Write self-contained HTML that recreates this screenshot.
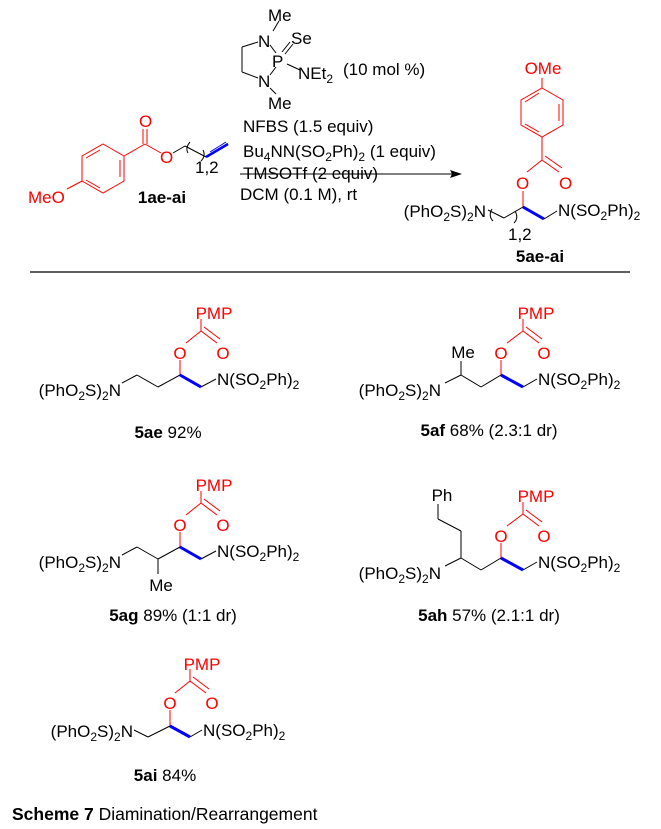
<!DOCTYPE html>
<html><head><meta charset="utf-8"><style>
body{margin:0;background:#fff}
svg{display:block}
text{font-family:"Liberation Sans",Arial,sans-serif;font-size:17px}
.r{fill:#f00}
.b{font-weight:bold}
.m{text-anchor:middle}
.e{text-anchor:end}
</style></head><body>
<svg width="661" height="829" viewBox="0 0 661 829" xmlns="http://www.w3.org/2000/svg">
<g stroke="#000" stroke-width="1" fill="none">
<line x1="279" y1="21" x2="273" y2="31"/>
<line x1="258" y1="42" x2="242" y2="47"/>
<line x1="242" y1="47" x2="242" y2="72"/>
<line x1="242" y1="72" x2="258" y2="78"/>
<line x1="270" y1="45" x2="276" y2="53"/>
<line x1="276" y1="67" x2="270" y2="75"/>
<line x1="282" y1="52" x2="290" y2="42"/><line x1="285" y1="54" x2="293" y2="44"/>
<line x1="287" y1="64" x2="300" y2="70"/>
<line x1="270" y1="88" x2="276" y2="94"/>
<line x1="240" y1="174" x2="452" y2="174"/>
</g>
<polygon points="462,174 450,170 452,174 450,178" fill="#000"/>
<text x="268" y="21">Me</text>
<text x="258" y="47">N</text>
<text x="291" y="44">Se</text>
<text x="272" y="67">P</text>
<text x="298" y="79">NEt<tspan font-size="12" dy="4">2</tspan></text>
<text x="343" y="75">(10 mol %)</text>
<text x="258" y="87">N</text>
<text x="268" y="109">Me</text>
<text x="243" y="132">NFBS (1.5 equiv)</text>
<text x="243" y="157">Bu<tspan font-size="12" dy="4">4</tspan><tspan dy="-4">NN(SO</tspan><tspan font-size="12" dy="4">2</tspan><tspan dy="-4">Ph)</tspan><tspan font-size="12" dy="4">2</tspan><tspan dy="-4"> (1 equiv)</tspan></text>
<text x="243" y="179">TMSOTf (2 equiv)</text>
<text x="240" y="200">DCM (0.1 M), rt</text>

<!-- 1ae-ai -->
<g stroke="#f00" stroke-width="1" fill="none">
<polygon points="103,144 124,156 124,181 103,193 82,181 82,156"/>
<line x1="120" y1="160" x2="120" y2="177"/>
<line x1="100" y1="188" x2="86" y2="180"/>
<line x1="86" y1="158" x2="100" y2="150"/>
<line x1="124" y1="156" x2="145" y2="144"/>
<line x1="143" y1="144" x2="143" y2="129"/><line x1="147" y1="144" x2="147" y2="129"/>
<line x1="145" y1="144" x2="161" y2="153"/>
<line x1="82" y1="181" x2="67" y2="189"/>
</g>
<g stroke="#000" fill="none">
<line x1="173" y1="153" x2="185" y2="146"/>
<line x1="185" y1="146" x2="206" y2="157"/>
<path d="M190 142 q-5 6 -2 11"/><path d="M203 150 q3 6 -2 11"/>
</g>
<g stroke="#00f" fill="none"><line x1="206" y1="157" x2="228" y2="144" stroke-width="2.5"/><line x1="210" y1="152" x2="226" y2="142" stroke-width="1"/></g>
<text x="139" y="127" class="r">O</text>
<text x="160" y="163" class="r">O</text>
<text x="28" y="203" class="r">MeO</text>
<text x="195" y="173" font-size="12">1,2</text>
<text x="162" y="203" class="b m">1ae-ai</text>

<!-- 5ae-ai -->
<g stroke="#f00" fill="none">
<polygon points="542,88 563,100 563,125 542,137 521,125 521,100"/>
<line x1="559" y1="104" x2="559" y2="121"/>
<line x1="539" y1="132" x2="525" y2="124"/>
<line x1="525" y1="102" x2="539" y2="93"/>
<line x1="542" y1="78" x2="542" y2="88"/>
<line x1="542" y1="137" x2="542" y2="160"/>
<line x1="542" y1="160" x2="527" y2="172"/>
<line x1="542" y1="160" x2="559" y2="172"/><line x1="545" y1="156" x2="562" y2="168"/>
<line x1="523" y1="191" x2="523" y2="207"/>
</g>
<g stroke="#000" fill="none">
<line x1="523" y1="207" x2="504" y2="218"/><line x1="504" y1="218" x2="488" y2="210"/>
<path d="M492 209 q-4 7 1 12"/><path d="M515 211 q4 7 -1 12"/>
<line x1="544" y1="219" x2="557" y2="211"/>
</g>
<line x1="523" y1="207" x2="544" y2="219" stroke="#00f" stroke-width="3"/>
<text x="543" y="74" class="r m">OMe</text>
<text x="516" y="189" class="r">O</text>
<text x="559" y="189" class="r">O</text>
<text x="486" y="217" class="e">(PhO<tspan font-size="12" dy="4">2</tspan><tspan dy="-4">S)</tspan><tspan font-size="12" dy="4">2</tspan><tspan dy="-4">N</tspan></text>
<text x="558" y="216">N(SO<tspan font-size="12" dy="4">2</tspan><tspan dy="-4">Ph)</tspan><tspan font-size="12" dy="4">2</tspan></text>
<text x="508" y="240" font-size="12">1,2</text>
<text x="540" y="262" class="b m">5ae-ai</text>
<line x1="30" y1="272" x2="630" y2="272" stroke="#000" stroke-width="1.3"/>

<!-- 5ae -->
<g>
<g stroke="#f00" fill="none"><line x1="201" y1="319" x2="201" y2="331"/><line x1="201" y1="331" x2="186" y2="343"/><line x1="201" y1="331" x2="217" y2="343"/><line x1="204" y1="327" x2="220" y2="339"/><line x1="180" y1="360" x2="180" y2="375"/></g>
<g stroke="#000" fill="none"><line x1="180" y1="375" x2="158" y2="387"/><line x1="158" y1="387" x2="137" y2="375"/><line x1="137" y1="375" x2="122" y2="383"/><line x1="201" y1="387" x2="216" y2="379"/></g>
<line x1="180" y1="375" x2="201" y2="387" stroke="#00f" stroke-width="3"/>
<text x="214" y="319" class="r m">PMP</text>
<text x="180" y="359" class="r m">O</text><text x="223" y="359" class="r m">O</text>
<text x="121" y="396" class="e">(PhO<tspan font-size="12" dy="4">2</tspan><tspan dy="-4">S)</tspan><tspan font-size="12" dy="4">2</tspan><tspan dy="-4">N</tspan></text>
<text x="217" y="385">N(SO<tspan font-size="12" dy="4">2</tspan><tspan dy="-4">Ph)</tspan><tspan font-size="12" dy="4">2</tspan></text>
<text x="168" y="438" class="m"><tspan class="b">5ae</tspan> 92%</text>
</g>
<!-- 5af -->
<g>
<g stroke="#f00" fill="none"><line x1="523" y1="319" x2="523" y2="331"/><line x1="523" y1="331" x2="507" y2="343"/><line x1="523" y1="331" x2="539" y2="343"/><line x1="526" y1="327" x2="542" y2="339"/><line x1="501" y1="360" x2="501" y2="375"/></g>
<g stroke="#000" fill="none"><line x1="501" y1="375" x2="481" y2="387"/><line x1="481" y1="387" x2="461" y2="375"/><line x1="461" y1="375" x2="445" y2="383"/><line x1="461" y1="375" x2="461" y2="361"/><line x1="523" y1="387" x2="537" y2="379"/></g>
<line x1="501" y1="375" x2="523" y2="387" stroke="#00f" stroke-width="3"/>
<text x="536" y="319" class="r m">PMP</text>
<text x="463" y="358" class="m">Me</text>
<text x="501" y="359" class="r m">O</text><text x="544" y="359" class="r m">O</text>
<text x="441" y="396" class="e">(PhO<tspan font-size="12" dy="4">2</tspan><tspan dy="-4">S)</tspan><tspan font-size="12" dy="4">2</tspan><tspan dy="-4">N</tspan></text>
<text x="538" y="385">N(SO<tspan font-size="12" dy="4">2</tspan><tspan dy="-4">Ph)</tspan><tspan font-size="12" dy="4">2</tspan></text>
<text x="489" y="436" class="m"><tspan class="b">5af</tspan> 68% (2.3:1 dr)</text>
</g>
<!-- 5ag -->
<g transform="translate(0,172)">
<g stroke="#f00" fill="none"><line x1="201" y1="319" x2="201" y2="331"/><line x1="201" y1="331" x2="186" y2="343"/><line x1="201" y1="331" x2="217" y2="343"/><line x1="204" y1="327" x2="220" y2="339"/><line x1="180" y1="360" x2="180" y2="375"/></g>
<g stroke="#000" fill="none"><line x1="180" y1="375" x2="158" y2="387"/><line x1="158" y1="387" x2="137" y2="375"/><line x1="137" y1="375" x2="122" y2="383"/><line x1="158" y1="387" x2="158" y2="402"/><line x1="201" y1="387" x2="216" y2="379"/></g>
<line x1="180" y1="375" x2="201" y2="387" stroke="#00f" stroke-width="3"/>
<text x="214" y="319" class="r m">PMP</text>
<text x="180" y="359" class="r m">O</text><text x="223" y="359" class="r m">O</text>
<text x="161" y="419" class="m">Me</text>
<text x="121" y="396" class="e">(PhO<tspan font-size="12" dy="4">2</tspan><tspan dy="-4">S)</tspan><tspan font-size="12" dy="4">2</tspan><tspan dy="-4">N</tspan></text>
<text x="217" y="385">N(SO<tspan font-size="12" dy="4">2</tspan><tspan dy="-4">Ph)</tspan><tspan font-size="12" dy="4">2</tspan></text>
<text x="173" y="449" class="m"><tspan class="b">5ag</tspan> 89% (1:1 dr)</text>
</g>
<!-- 5ah -->
<g transform="translate(0,183)">
<g stroke="#f00" fill="none"><line x1="523" y1="319" x2="523" y2="331"/><line x1="523" y1="331" x2="507" y2="343"/><line x1="523" y1="331" x2="539" y2="343"/><line x1="526" y1="327" x2="542" y2="339"/><line x1="501" y1="360" x2="501" y2="375"/></g>
<g stroke="#000" fill="none"><line x1="501" y1="375" x2="481" y2="387"/><line x1="481" y1="387" x2="461" y2="375"/><line x1="461" y1="375" x2="445" y2="383"/><line x1="461" y1="375" x2="461" y2="348"/><line x1="461" y1="348" x2="438" y2="336"/><line x1="438" y1="336" x2="438" y2="321"/><line x1="523" y1="387" x2="537" y2="379"/></g>
<line x1="501" y1="375" x2="523" y2="387" stroke="#00f" stroke-width="3"/>
<text x="536" y="319" class="r m">PMP</text>
<text x="442" y="318" class="m">Ph</text>
<text x="501" y="359" class="r m">O</text><text x="544" y="359" class="r m">O</text>
<text x="441" y="396" class="e">(PhO<tspan font-size="12" dy="4">2</tspan><tspan dy="-4">S)</tspan><tspan font-size="12" dy="4">2</tspan><tspan dy="-4">N</tspan></text>
<text x="538" y="385">N(SO<tspan font-size="12" dy="4">2</tspan><tspan dy="-4">Ph)</tspan><tspan font-size="12" dy="4">2</tspan></text>
<text x="489" y="438" class="m"><tspan class="b">5ah</tspan> 57% (2.1:1 dr)</text>
</g>
<!-- 5ai -->
<g>
<g stroke="#f00" fill="none"><line x1="190" y1="669" x2="190" y2="681"/><line x1="190" y1="681" x2="175" y2="693"/><line x1="190" y1="681" x2="206" y2="693"/><line x1="193" y1="677" x2="209" y2="689"/><line x1="170" y1="710" x2="170" y2="726"/></g>
<g stroke="#000" fill="none"><line x1="170" y1="726" x2="148" y2="737"/><line x1="148" y1="737" x2="134" y2="730"/><line x1="190" y1="737" x2="202" y2="730"/></g>
<line x1="170" y1="726" x2="190" y2="737" stroke="#00f" stroke-width="3"/>
<text x="202" y="670" class="r m">PMP</text>
<text x="170" y="709" class="r m">O</text><text x="212" y="709" class="r m">O</text>
<text x="133" y="737" class="e">(PhO<tspan font-size="12" dy="4">2</tspan><tspan dy="-4">S)</tspan><tspan font-size="12" dy="4">2</tspan><tspan dy="-4">N</tspan></text>
<text x="203" y="736">N(SO<tspan font-size="12" dy="4">2</tspan><tspan dy="-4">Ph)</tspan><tspan font-size="12" dy="4">2</tspan></text>
<text x="165" y="781" class="m"><tspan class="b">5ai</tspan> 84%</text>
</g>
<text x="12" y="820" style="font-size:17.5px"><tspan class="b">Scheme 7</tspan> Diamination/Rearrangement</text>
</svg>
</body></html>
